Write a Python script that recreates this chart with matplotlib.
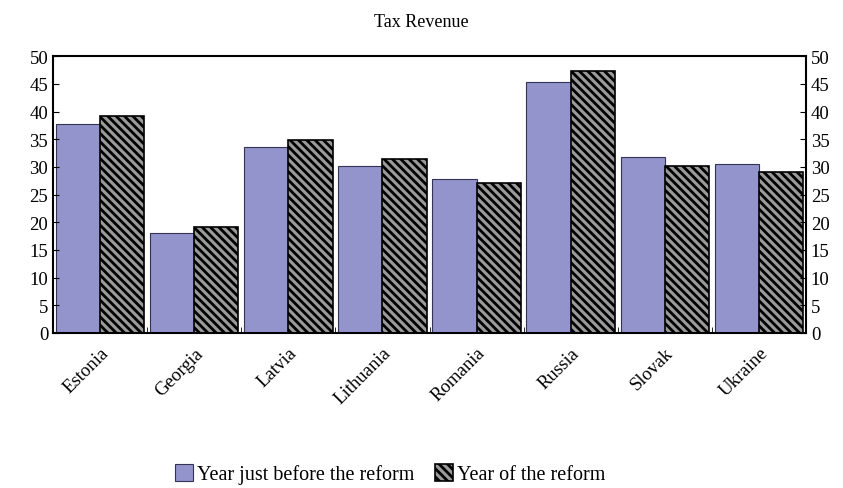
import matplotlib.pyplot as plt
import numpy as np

countries = ["Estonia", "Georgia", "Latvia", "Lithuania", "Romania", "Russia", "Slovak", "Ukraine"]
before = [37.7, 18.0, 33.6, 30.1, 27.8, 45.3, 31.8, 30.5]
reform = [39.2, 19.1, 34.8, 31.4, 27.1, 47.3, 30.1, 29.1]

plt.rcParams['font.family'] = ['Liberation Serif', 'DejaVu Serif']
plt.rcParams['hatch.linewidth'] = 2.0
plt.rcParams['hatch.color'] = 'black'

fig = plt.figure(figsize=(8.43, 4.89), dpi=100)
ax = fig.add_axes([0.063, 0.317, 0.893, 0.566])

x = np.arange(len(countries))
w = 0.47
ax.bar(x - w / 2, before, w, color='#9494cc', edgecolor='#333355', linewidth=0.8,
       label='Year just before the reform')
ax.bar(x + w / 2, reform, w, color='#9a9a9a', edgecolor='black', linewidth=1.2,
       hatch='\\\\\\\\', label='Year of the reform')

ax.set_xlim(-0.5, len(countries) - 0.5)
ax.set_ylim(0, 50)
ax.set_yticks(range(0, 51, 5))
ax.tick_params(axis='y', direction='in', labelsize=13.5, length=4, right=True, labelright=True)
ax.set_xticks(x)
ax.set_xticklabels(countries, rotation=45, ha='right', rotation_mode='anchor', fontsize=13.5)
ax.tick_params(axis='x', length=0, pad=8)
ax.set_xticks(np.arange(0.5, len(countries) - 0.5), minor=True)
ax.tick_params(axis='x', which='minor', direction='in', length=4)
for s in ax.spines.values():
    s.set_linewidth(1.5)

fig.text(0.5, 0.955, 'Tax Revenue', ha='center', va='center', fontsize=13)
fig.legend(loc='center', bbox_to_anchor=(0.463, 0.028), ncol=2, frameon=False,
           fontsize=14.5, handlelength=0.9, handleheight=0.9, handletextpad=0.2,
           columnspacing=1.0)

fig.savefig('out.png', dpi=100)
